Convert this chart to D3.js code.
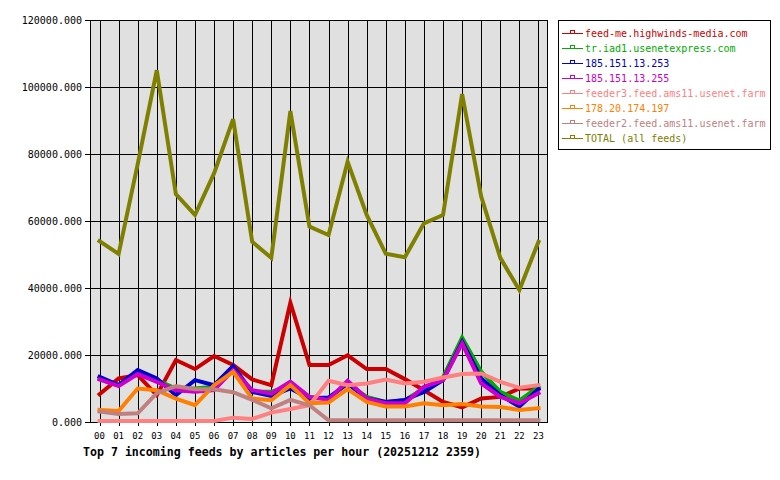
<!DOCTYPE html>
<html><head><meta charset="utf-8">
<script src="https://cdn.jsdelivr.net/npm/d3@7"></script>
<style>body{margin:0;background:#fff}svg{display:block}</style>
</head><body>
<svg id="c" width="780" height="480"></svg>
<script>
const hours = ["00","01","02","03","04","05","06","07","08","09","10","11","12","13","14","15","16","17","18","19","20","21","22","23"];
const yTicks = [0,20000,40000,60000,80000,100000,120000];
const seriesNames = ["feed-me.highwinds-media.com","tr.iad1.usenetexpress.com","185.151.13.253","185.151.13.255","feeder3.feed.ams11.usenet.farm","178.20.174.197","feeder2.feed.ams11.usenet.farm","TOTAL (all feeds)"];
const highwinds = [8300,13000,14000,8000,18500,15800,19700,17000,12700,11000,35600,17000,17000,19900,15800,15800,12800,9500,6000,4400,7000,7500,10000,10000];
const usenetexpress = [13000,11000,15000,12500,10000,10000,10500,15500,9000,9000,11000,7500,7000,11500,7500,6000,6500,10000,13300,25200,15000,9000,6400,10500];
const ip253 = [13500,11000,15500,13000,8000,12500,11000,16700,9000,7800,10000,7000,7300,11500,7000,6000,6600,9000,12500,24000,13000,8000,4600,9800];
const ip255 = [12700,10700,14300,12000,9500,9000,9500,15500,9500,8500,12000,7500,6600,12300,7000,5600,5600,10500,12500,23500,11500,7500,5600,8600];
const feeder3 = [300,300,300,300,300,300,300,1300,900,2800,3900,5000,12300,11000,11500,12700,11500,12000,13300,14300,14500,12000,10200,11000];
const ip197 = [3600,3300,10000,9500,7000,5000,11000,15000,7000,6500,11000,5600,5800,9800,6000,4600,4600,5600,5000,5400,4600,4500,3600,4100];
const feeder2 = [3100,2400,2600,8600,10700,9800,9800,8900,6600,4100,6600,5000,500,500,500,500,500,500,500,500,500,500,500,500];
const total = [54000,50200,77000,105000,68000,61800,74200,90400,53800,49000,92800,58300,55800,77700,61800,50200,49200,59300,61800,97900,67300,49000,39400,53800];
const colors = ["#cc0000","#00aa00","#0000cc","#cc00cc","#ff8080","#ff8000","#c08080","#808000"];
const allSeries = [highwinds,usenetexpress,ip253,ip255,feeder3,ip197,feeder2,total];

const svg = d3.select("#c");
const L=90,R=548,T=20,B=422;
const x = d3.scaleBand().domain(hours).range([L,R]);
const cx = h => x(h)+x.bandwidth()/2;
const y = d3.scaleLinear().domain([0,120000]).range([B,T]);
const mono = "'DejaVu Sans Mono', 'Liberation Mono', monospace";

svg.append("rect").attr("x",L).attr("y",T).attr("width",R-L).attr("height",B-T).attr("fill","#e0e0e0");
const g = svg.append("g").attr("shape-rendering","crispEdges").attr("stroke","#000").attr("stroke-width",1);
yTicks.forEach(v=>{
  const yy=Math.round(y(v))+0.5;
  g.append("line").attr("x1",L-5).attr("x2",R).attr("y1",yy).attr("y2",yy);
});
hours.forEach(h=>{
  const xx=Math.round(cx(h))+0.5;
  g.append("line").attr("x1",xx).attr("x2",xx).attr("y1",T).attr("y2",B+4);
});
g.append("rect").attr("x",L+0.5).attr("y",T+0.5).attr("width",R-L-1).attr("height",B-T).attr("fill","none");

svg.append("g").selectAll("text").data(yTicks).join("text")
  .attr("x",82).attr("y",d=>y(d)).attr("dy","0.35em").attr("text-anchor","end")
  .attr("font-family",mono).attr("font-size",10).text(d=>d3.format(".3f")(d));
svg.append("g").selectAll("text").data(hours).join("text")
  .attr("x",d=>cx(d)).attr("y",436).attr("dy","0.35em").attr("text-anchor","middle")
  .attr("font-family",mono).attr("font-size",9).text(d=>d);
svg.append("text").attr("x",83).attr("y",452).attr("dy","0.35em")
  .attr("font-family",mono).attr("font-size",11.6).attr("font-weight","bold")
  .text("Top 7 incoming feeds by articles per hour (20251212 2359)");

const line = d3.line().x((d,i)=>cx(hours[i])).y(d=>y(d));
allSeries.forEach((s,k)=>{
  svg.append("path").attr("d",line(s)).attr("fill","none").attr("stroke",colors[k])
    .attr("stroke-width",4).attr("stroke-linejoin","miter").attr("stroke-linecap","square");
});

const lg = svg.append("g");
lg.append("rect").attr("x",558.5).attr("y",20.5).attr("width",212).attr("height",129).attr("fill","#fff").attr("stroke","#000").attr("shape-rendering","crispEdges");
seriesNames.forEach((n,k)=>{
  const yy = 33.5 + k*15;
  lg.append("line").attr("x1",562).attr("x2",583).attr("y1",yy).attr("y2",yy).attr("stroke",colors[k]).attr("shape-rendering","crispEdges");
  lg.append("rect").attr("x",570.5).attr("y",yy-3).attr("width",4).attr("height",3).attr("fill","none").attr("stroke",colors[k]).attr("shape-rendering","crispEdges");
  lg.append("text").attr("x",585).attr("y",yy).attr("dy","0.35em").attr("font-family",mono).attr("font-size",10).attr("fill",colors[k]).text(n);
});
</script>
</body></html>
